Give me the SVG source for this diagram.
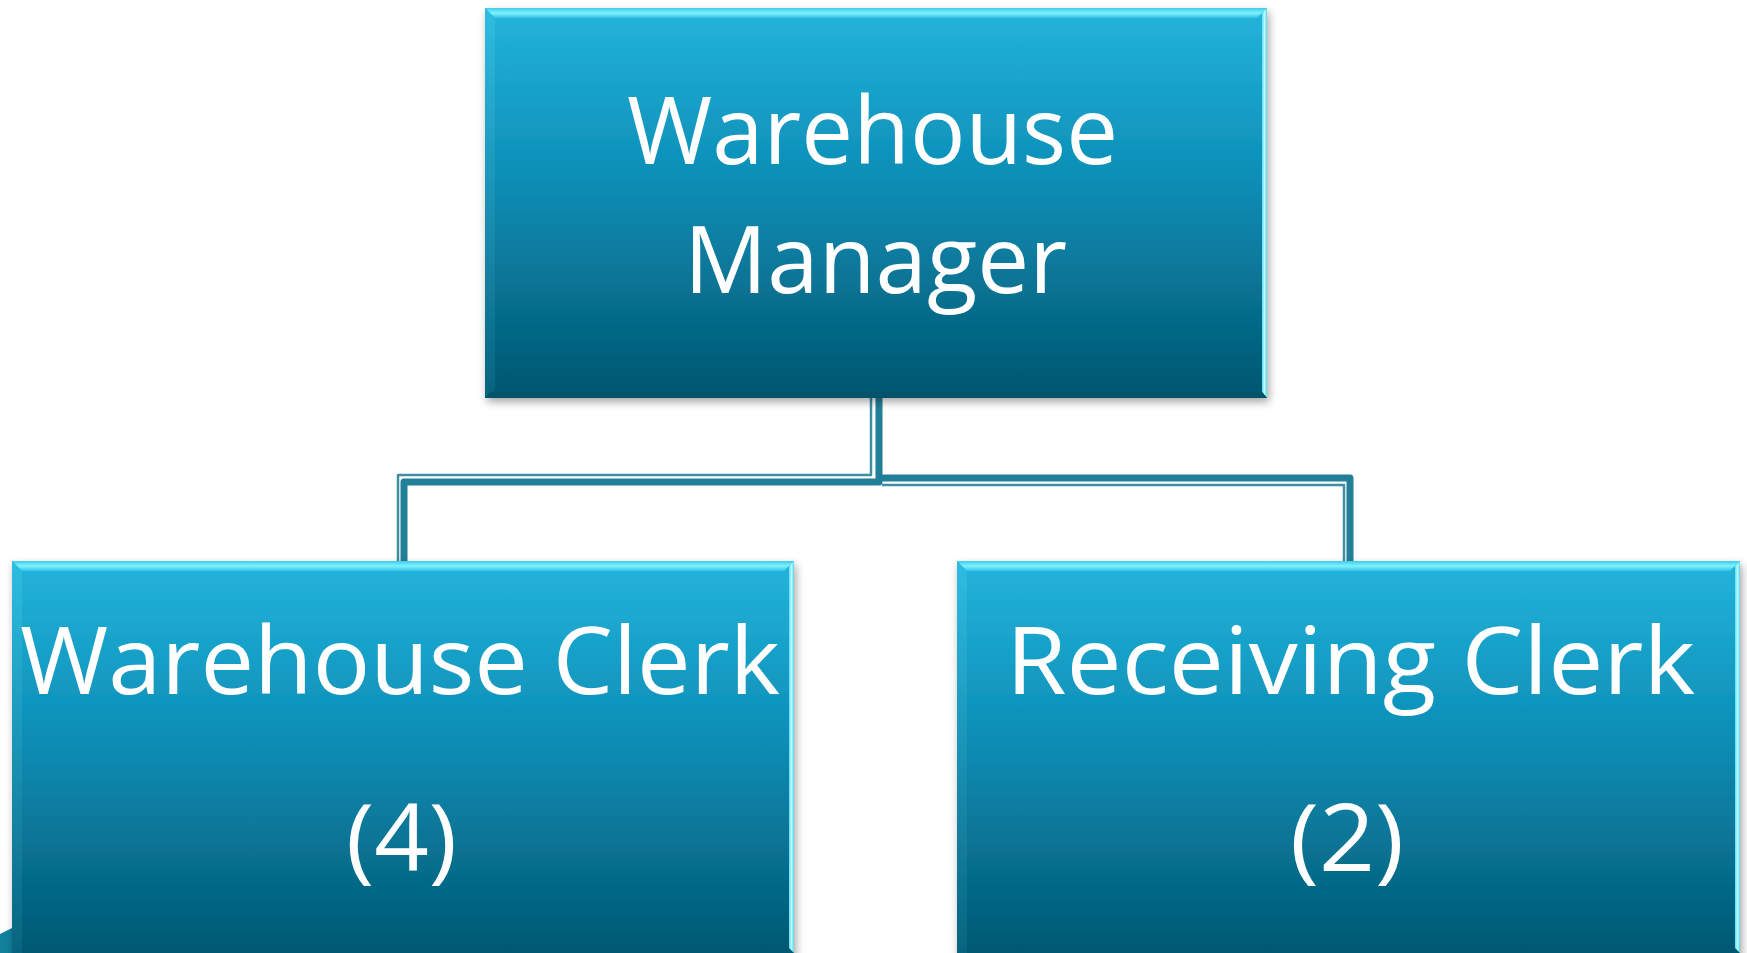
<svg xmlns="http://www.w3.org/2000/svg" width="1747" height="953" viewBox="0 0 1747 953">
<defs>
<linearGradient id="face" x1="0" y1="0" x2="0" y2="1">
<stop offset="0" stop-color="#24b4dc"/>
<stop offset="0.45" stop-color="#0b8db5"/>
<stop offset="1" stop-color="#03566f"/>
</linearGradient>
<linearGradient id="topbev" x1="0" y1="0" x2="0" y2="1">
<stop offset="0" stop-color="#3ecbea"/>
<stop offset="0.5" stop-color="#7ef2ff"/>
<stop offset="1" stop-color="#35c3e6"/>
</linearGradient>
<linearGradient id="rightbev" x1="0" y1="0" x2="1" y2="0">
<stop offset="0" stop-color="#5edcf2"/>
<stop offset="0.5" stop-color="#b8fbff"/>
<stop offset="1" stop-color="#5ad6ee"/>
</linearGradient>
<linearGradient id="leftbev" x1="0" y1="0" x2="0" y2="1">
<stop offset="0" stop-color="#36c2e6"/>
<stop offset="1" stop-color="#0d6c86"/>
</linearGradient>
<filter id="shadow" x="-5%" y="-5%" width="112%" height="115%">
<feDropShadow dx="2" dy="4" stdDeviation="4" flood-color="#000" flood-opacity="0.35"/>
</filter>
</defs>
<style>
.label{font-family:"Open Sans","Noto Sans","DejaVu Sans",sans-serif;fill:#ffffff;text-anchor:middle;font-size:94px}
.thin{fill:none;stroke:#3f8ea4;stroke-width:2.5;stroke-linejoin:round}
.thick{fill:none;stroke:#217f98;stroke-width:7;stroke-linejoin:round}
</style>
<rect width="1747" height="953" fill="#ffffff"/>
<polygon points="0,934 12,928 12,953 0,953" fill="#127f9b"/>
<g id="connectors">
<path class="thin" d="M871 398 V475 H398 V562"/>
<path class="thick" d="M879 398 V482 H404 V562"/>
<path class="thick" d="M879 478 H1350 V562"/>
<path class="thin" d="M882 485 H1344 V562"/>
</g>
<g id="node-manager">
<rect x="485" y="8" width="782" height="390" fill="url(#face)" filter="url(#shadow)"/>
<polygon points="485,8 1267,8 1257,18 495,18" fill="url(#topbev)"/>
<polygon points="485,8 495,18 495,390 485,398" fill="url(#leftbev)" opacity="0.6"/>
<polygon points="1267,8 1267,398 1262,392 1262,13" fill="url(#rightbev)"/>
<polygon points="485,398 1267,398 1262,392 490,392" fill="#04536a"/>
<text class="label" x="872.5" y="164" textLength="491" lengthAdjust="spacingAndGlyphs">Warehouse</text>
<text class="label" x="875.5" y="293" textLength="383" lengthAdjust="spacingAndGlyphs">Manager</text>
</g>
<g id="node-warehouse-clerk">
<rect x="12" y="561" width="782" height="400" fill="url(#face)" filter="url(#shadow)"/>
<polygon points="12,561 794,561 784,571 22,571" fill="url(#topbev)"/>
<polygon points="12,561 22,571 22,953 12,953" fill="url(#leftbev)" opacity="0.6"/>
<polygon points="794,561 794,953 789,948 789,566" fill="url(#rightbev)"/>
<text class="label" x="400" y="694" font-size="95" textLength="760" lengthAdjust="spacingAndGlyphs">Warehouse Clerk</text>
<text class="label" x="401.5" y="871" font-size="95" textLength="111" lengthAdjust="spacingAndGlyphs">(4)</text>
</g>
<g id="node-receiving-clerk">
<rect x="957" y="561" width="783" height="400" fill="url(#face)" filter="url(#shadow)"/>
<polygon points="957,561 1740,561 1730,571 967,571" fill="url(#topbev)"/>
<polygon points="957,561 967,571 967,953 957,953" fill="url(#leftbev)" opacity="0.6"/>
<polygon points="1740,561 1740,953 1735,948 1735,566" fill="url(#rightbev)"/>
<text class="label" x="1350.5" y="694" font-size="95" textLength="689" lengthAdjust="spacingAndGlyphs">Receiving Clerk</text>
<text class="label" x="1347" y="871" font-size="95" textLength="114" lengthAdjust="spacingAndGlyphs">(2)</text>
</g>
</svg>
